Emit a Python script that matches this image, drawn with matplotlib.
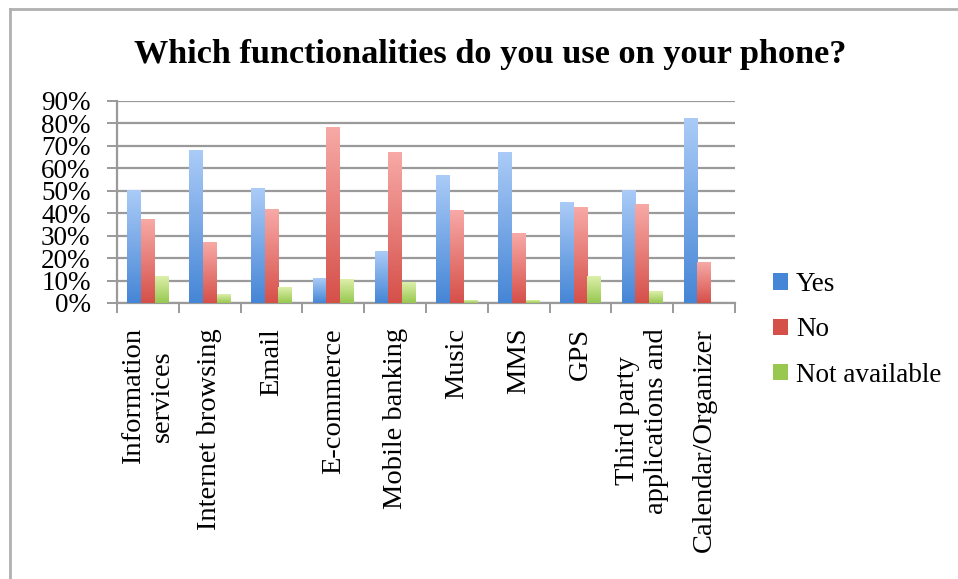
import numpy as np
import matplotlib
matplotlib.use("Agg")
import matplotlib.pyplot as plt
from matplotlib.colors import LinearSegmentedColormap
from matplotlib.lines import Line2D
from matplotlib.patches import Patch
from matplotlib.ticker import PercentFormatter, MultipleLocator

# survey answers, percent of respondents
features = ["Information\nservices", "Internet browsing", "Email", "E-commerce",
            "Mobile banking", "Music", "MMS", "GPS",
            "Third party\napplications and", "Calendar/Organizer"]
yes = [50, 68, 51, 11, 23, 57, 67, 45, 50, 82]
no = [37, 27, 41.5, 78, 67, 41, 31, 42.5, 44, 18]
not_available = [12, 4, 7, 10.5, 9, 1, 1, 12, 5, 0]
series_names = ["Yes", "No", "Not available"]

# (top, bottom) colours of each bar gradient
shades = [("#aacbf7", "#4686d6"),
          ("#f7a9a6", "#d6504a"),
          ("#dcefaa", "#98c850")]

plt.rcParams["font.family"] = ["Liberation Serif", "DejaVu Serif"]

fig = plt.figure(figsize=(9.58, 5.79), dpi=100)
ax = fig.add_axes([117 / 958, 276 / 579, 618 / 958, 202 / 579])

x = np.arange(len(features))
w = 0.222
grid_c = "#9a9a9a"

for k, vals in enumerate([yes, no, not_available]):
    top_c, bot_c = shades[k]
    cmap = LinearSegmentedColormap.from_list("g%d" % k, [bot_c, top_c])
    bars = ax.bar(x + (k - 1) * w, vals, width=w, color=bot_c, zorder=3)
    for b in bars:
        h = b.get_height()
        if h <= 0:
            continue
        grad = np.linspace(0, 1, 64).reshape(-1, 1)
        ax.imshow(grad, cmap=cmap, aspect="auto", origin="lower",
                  extent=(b.get_x(), b.get_x() + b.get_width(), 0, h),
                  zorder=4, interpolation="bilinear")

ax.set_xlim(-0.5, len(features) - 0.5)
ax.set_ylim(0, 90)
ax.yaxis.set_major_locator(MultipleLocator(10))
ax.yaxis.set_major_formatter(PercentFormatter(100, decimals=0))
ax.grid(axis="y", color=grid_c, linewidth=1.6, zorder=1)

ax.set_xticks(x)
ax.set_xticklabels(features, rotation=90, va="top", ha="center",
                   multialignment="center", fontsize=20.5)
ax.set_xticks(np.arange(len(features) + 1) - 0.5, minor=True)
ax.tick_params(axis="x", which="major", length=0, pad=18)
ax.tick_params(axis="x", which="minor", length=7, width=1.4, color=grid_c,
               direction="out")
ax.tick_params(axis="y", length=7, width=1.4, color=grid_c, direction="out",
               labelsize=19.5, pad=12)

for side in ["top", "right"]:
    ax.spines[side].set_visible(False)
for side in ["left", "bottom"]:
    ax.spines[side].set_color(grid_c)
    ax.spines[side].set_linewidth(1.6)

fig.text(490 / 958, 1 - 54 / 579, "Which functionalities do you use on your phone?",
         ha="center", va="center", fontsize=24.7, fontweight="bold")

handles = [Patch(facecolor=shades[k][1], edgecolor="none") for k in range(3)]
fig.legend(handles, series_names, loc="center left",
           bbox_to_anchor=(773 / 958, 1 - 330 / 579), frameon=False,
           fontsize=19.5, handlelength=0.55, handleheight=0.55,
           handletextpad=0.3, labelspacing=0.75, borderpad=0, borderaxespad=0)

# chart frame (left and top edges)
frame_c = "#b0b0b0"
fig.add_artist(Line2D([9.5 / 958, 9.5 / 958], [0, 1 - 8.5 / 579],
                      color=frame_c, linewidth=2))
fig.add_artist(Line2D([9.5 / 958, 1], [1 - 8.5 / 579, 1 - 8.5 / 579],
                      color=frame_c, linewidth=2))

fig.savefig("out.png", dpi=100)
